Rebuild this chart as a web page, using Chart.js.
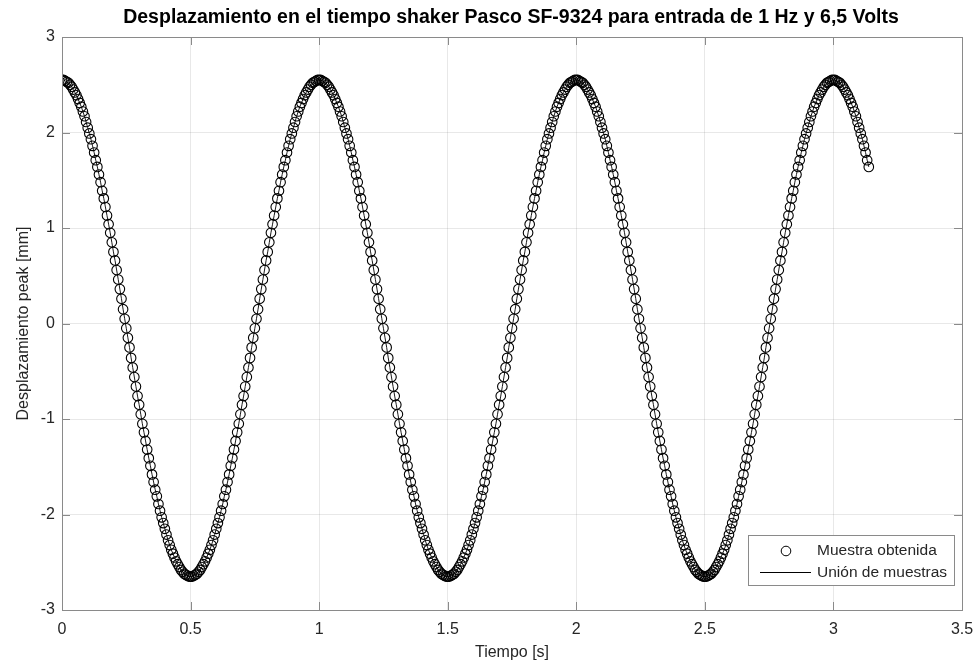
<!DOCTYPE html>
<html>
<head>
<meta charset="utf-8">
<title>Desplazamiento shaker Pasco SF-9324</title>
<script src="https://cdn.jsdelivr.net/npm/chart.js@4.4.1/dist/chart.umd.min.js"></script>
<style>
  body { margin: 0; background: #fff; }
  #grafico { display: block; }
</style>
</head>
<body>
<canvas id="grafico" width="977" height="667"></canvas>
<script>
// Periodo de muestreo [s] (las muestras van de 0 a ~3.14 s)
const periodoMuestreo = 0.00625;

// Desplazamiento peak [mm], ciclo por ciclo
const ciclo1 = [
  2.55,2.55,2.54,2.53,2.52,2.50,2.48,2.45,2.42,2.39,
  2.35,2.31,2.27,2.22,2.17,2.11,2.05,1.99,1.93,1.86,
  1.79,1.71,1.64,1.56,1.48,1.39,1.31,1.22,1.13,1.04,
  0.95,0.85,0.75,0.66,0.56,0.46,0.36,0.26,0.15,0.05,
  -0.05,-0.15,-0.25,-0.36,-0.46,-0.56,-0.66,-0.76,-0.85,-0.95,
  -1.05,-1.14,-1.23,-1.32,-1.41,-1.49,-1.58,-1.66,-1.74,-1.81,
  -1.89,-1.96,-2.03,-2.09,-2.15,-2.21,-2.27,-2.32,-2.37,-2.41,
  -2.45,-2.49,-2.52,-2.55,-2.58,-2.60,-2.62,-2.63,-2.64,-2.65,
  -2.65,-2.65,-2.64,-2.63,-2.62,-2.60,-2.58,-2.55,-2.52,-2.49,
  -2.45,-2.41,-2.37,-2.32,-2.27,-2.21,-2.15,-2.09,-2.03,-1.96,
  -1.89,-1.81,-1.74,-1.66,-1.58,-1.49,-1.41,-1.32,-1.23,-1.14,
  -1.05,-0.95,-0.85,-0.76,-0.66,-0.56,-0.46,-0.36,-0.25,-0.15,
  -0.05,0.05,0.15,0.26,0.36,0.46,0.56,0.66,0.75,0.85,
  0.95,1.04,1.13,1.22,1.31,1.39,1.48,1.56,1.64,1.71,
  1.79,1.86,1.93,1.99,2.05,2.11,2.17,2.22,2.27,2.31,
  2.35,2.39,2.42,2.45,2.48,2.50,2.52,2.53,2.54,2.55
];
const ciclo2 = [
  2.55,2.55,2.54,2.53,2.52,2.50,2.48,2.45,2.42,2.39,
  2.35,2.31,2.27,2.22,2.17,2.11,2.05,1.99,1.93,1.86,
  1.79,1.71,1.64,1.56,1.48,1.39,1.31,1.22,1.13,1.04,
  0.95,0.85,0.75,0.66,0.56,0.46,0.36,0.26,0.15,0.05,
  -0.05,-0.15,-0.25,-0.36,-0.46,-0.56,-0.66,-0.76,-0.85,-0.95,
  -1.05,-1.14,-1.23,-1.32,-1.41,-1.49,-1.58,-1.66,-1.74,-1.81,
  -1.89,-1.96,-2.03,-2.09,-2.15,-2.21,-2.27,-2.32,-2.37,-2.41,
  -2.45,-2.49,-2.52,-2.55,-2.58,-2.60,-2.62,-2.63,-2.64,-2.65,
  -2.65,-2.65,-2.64,-2.63,-2.62,-2.60,-2.58,-2.55,-2.52,-2.49,
  -2.45,-2.41,-2.37,-2.32,-2.27,-2.21,-2.15,-2.09,-2.03,-1.96,
  -1.89,-1.81,-1.74,-1.66,-1.58,-1.49,-1.41,-1.32,-1.23,-1.14,
  -1.05,-0.95,-0.85,-0.76,-0.66,-0.56,-0.46,-0.36,-0.25,-0.15,
  -0.05,0.05,0.15,0.26,0.36,0.46,0.56,0.66,0.75,0.85,
  0.95,1.04,1.13,1.22,1.31,1.39,1.48,1.56,1.64,1.71,
  1.79,1.86,1.93,1.99,2.05,2.11,2.17,2.22,2.27,2.31,
  2.35,2.39,2.42,2.45,2.48,2.50,2.52,2.53,2.54,2.55
];
const ciclo3 = [
  2.55,2.55,2.54,2.53,2.52,2.50,2.48,2.45,2.42,2.39,
  2.35,2.31,2.27,2.22,2.17,2.11,2.05,1.99,1.93,1.86,
  1.79,1.71,1.64,1.56,1.48,1.39,1.31,1.22,1.13,1.04,
  0.95,0.85,0.75,0.66,0.56,0.46,0.36,0.26,0.15,0.05,
  -0.05,-0.15,-0.25,-0.36,-0.46,-0.56,-0.66,-0.76,-0.85,-0.95,
  -1.05,-1.14,-1.23,-1.32,-1.41,-1.49,-1.58,-1.66,-1.74,-1.81,
  -1.89,-1.96,-2.03,-2.09,-2.15,-2.21,-2.27,-2.32,-2.37,-2.41,
  -2.45,-2.49,-2.52,-2.55,-2.58,-2.60,-2.62,-2.63,-2.64,-2.65,
  -2.65,-2.65,-2.64,-2.63,-2.62,-2.60,-2.58,-2.55,-2.52,-2.49,
  -2.45,-2.41,-2.37,-2.32,-2.27,-2.21,-2.15,-2.09,-2.03,-1.96,
  -1.89,-1.81,-1.74,-1.66,-1.58,-1.49,-1.41,-1.32,-1.23,-1.14,
  -1.05,-0.95,-0.85,-0.76,-0.66,-0.56,-0.46,-0.36,-0.25,-0.15,
  -0.05,0.05,0.15,0.26,0.36,0.46,0.56,0.66,0.75,0.85,
  0.95,1.04,1.13,1.22,1.31,1.39,1.48,1.56,1.64,1.71,
  1.79,1.86,1.93,1.99,2.05,2.11,2.17,2.22,2.27,2.31,
  2.35,2.39,2.42,2.45,2.48,2.50,2.52,2.53,2.54,2.55
];
const tramoFinal = [
  2.55,2.55,2.54,2.53,2.52,2.50,2.48,2.45,2.42,2.39,
  2.35,2.31,2.27,2.22,2.17,2.11,2.05,1.99,1.93,1.86,
  1.79,1.71,1.64
];

// Ticks de los ejes
const ticksTiempo = [0, 0.5, 1, 1.5, 2, 2.5, 3, 3.5];
const ticksDesp = [-3, -2, -1, 0, 1, 2, 3];

const titulo = 'Desplazamiento en el tiempo shaker Pasco SF-9324 para entrada de 1 Hz y 6,5 Volts';
const tituloX = 'Tiempo [s]';
const tituloY = 'Desplazamiento peak [mm]';
const leyenda = ['Muestra obtenida', 'Unión de muestras'];

const desplazamiento = ciclo1.concat(ciclo2, ciclo3, tramoFinal);
const muestras = desplazamiento.map((y, i) => ({ x: i * periodoMuestreo, y: y }));

const fuente = '"Liberation Sans", Arial, Helvetica, sans-serif';
const colorEje = '#8a8a8a';
const colorTexto = '#262626';

// Marco tipo MATLAB: caja, ticks hacia adentro, titulos y leyenda
const marcoEjes = {
  id: 'marcoEjes',
  afterDraw(chart) {
    const ctx = chart.ctx;
    const a = chart.chartArea;
    const sx = chart.scales.x;
    const sy = chart.scales.y;
    ctx.save();

    // ticks hacia adentro
    ctx.strokeStyle = colorEje;
    ctx.lineWidth = 1;
    const largo = 8;
    ctx.beginPath();
    ticksTiempo.forEach((t) => {
      const px = Math.round(sx.getPixelForValue(t)) + 0.5;
      ctx.moveTo(px, a.bottom); ctx.lineTo(px, a.bottom - largo);
      ctx.moveTo(px, a.top); ctx.lineTo(px, a.top + largo);
    });
    ticksDesp.forEach((v) => {
      const py = Math.round(sy.getPixelForValue(v)) + 0.5;
      ctx.moveTo(a.left, py); ctx.lineTo(a.left + largo, py);
      ctx.moveTo(a.right, py); ctx.lineTo(a.right - largo, py);
    });
    ctx.stroke();

    // caja
    ctx.strokeRect(Math.round(a.left) + 0.5, Math.round(a.top) + 0.5,
      Math.round(a.right - a.left), Math.round(a.bottom - a.top));

    // titulo
    ctx.fillStyle = '#000';
    ctx.font = 'bold 19.5px ' + fuente;
    ctx.textAlign = 'center';
    ctx.textBaseline = 'middle';
    ctx.fillText(titulo, 511, 18);

    // titulos de ejes
    ctx.fillStyle = colorTexto;
    ctx.font = '16px ' + fuente;
    ctx.fillText(tituloX, (a.left + a.right) / 2, 653);
    ctx.save();
    ctx.translate(24, (a.top + a.bottom) / 2);
    ctx.rotate(-Math.PI / 2);
    ctx.fillText(tituloY, 0, 0);
    ctx.restore();

    // leyenda
    const lx = 748, ly = 535, lw = 206, lh = 50;
    ctx.fillStyle = '#fff';
    ctx.fillRect(lx, ly, lw, lh);
    ctx.strokeStyle = colorEje;
    ctx.strokeRect(lx + 0.5, ly + 0.5, lw, lh);
    ctx.strokeStyle = '#000';
    ctx.beginPath();
    ctx.arc(786, 551, 4.8, 0, Math.PI * 2);
    ctx.stroke();
    ctx.beginPath();
    ctx.moveTo(760, 572.5); ctx.lineTo(811, 572.5);
    ctx.stroke();
    ctx.fillStyle = colorTexto;
    ctx.font = '15.5px ' + fuente;
    ctx.textAlign = 'left';
    ctx.fillText(leyenda[0], 817, 551);
    ctx.fillText(leyenda[1], 817, 573);
    ctx.restore();
  }
};

new Chart(document.getElementById('grafico'), {
  type: 'scatter',
  data: {
    datasets: [
      {
        label: leyenda[0],
        data: muestras,
        showLine: false,
        pointRadius: 4.8,
        pointBorderWidth: 1.1,
        pointBorderColor: '#000',
        pointBackgroundColor: 'rgba(0,0,0,0)'
      },
      {
        label: leyenda[1],
        data: muestras,
        showLine: true,
        borderColor: '#000',
        borderWidth: 0.9,
        pointRadius: 0
      }
    ]
  },
  options: {
    responsive: false,
    animation: false,
    layout: { padding: { top: 37, right: 15, left: 0, bottom: 0 } },
    plugins: {
      legend: { display: false },
      title: { display: false },
      tooltip: { enabled: false }
    },
    scales: {
      x: {
        type: 'linear',
        min: 0,
        max: 3.5,
        afterFit: (scale) => {
          scale.height = 57;
          scale.paddingLeft = 0;
          scale.paddingRight = 0;
        },
        afterBuildTicks: (scale) => { scale.ticks = ticksTiempo.map((v) => ({ value: v })); },
        grid: { color: 'rgba(0,0,0,0.09)', drawTicks: false },
        border: { display: false },
        ticks: {
          color: colorTexto,
          font: { family: fuente, size: 16 },
          padding: 10,
          maxRotation: 0,
          callback: (v) => String(v)
        }
      },
      y: {
        type: 'linear',
        min: -3,
        max: 3,
        afterFit: (scale) => {
          scale.width = 62;
          scale.paddingTop = 0;
          scale.paddingBottom = 0;
        },
        afterBuildTicks: (scale) => { scale.ticks = ticksDesp.map((v) => ({ value: v })); },
        grid: { color: 'rgba(0,0,0,0.09)', drawTicks: false },
        border: { display: false },
        ticks: {
          color: colorTexto,
          font: { family: fuente, size: 16 },
          padding: 7,
          callback: (v) => String(v)
        }
      }
    }
  },
  plugins: [marcoEjes]
});
</script>
</body>
</html>
